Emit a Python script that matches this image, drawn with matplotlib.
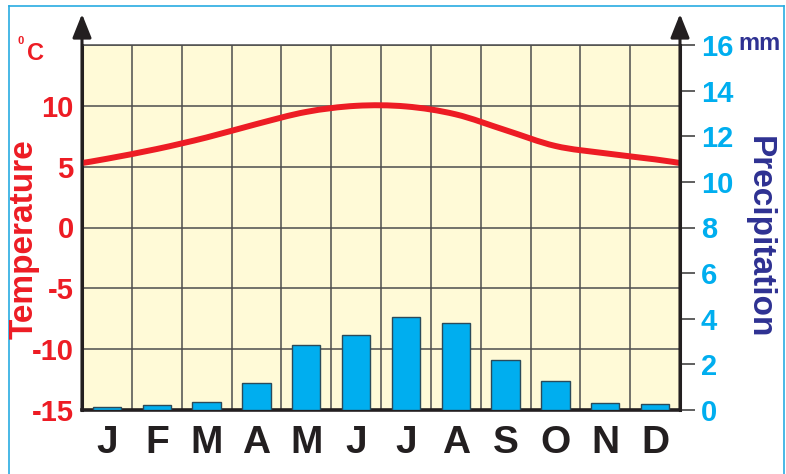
import matplotlib
matplotlib.use("Agg")
import matplotlib.pyplot as plt
import numpy as np
from matplotlib.path import Path
from matplotlib.patches import PathPatch

# data setting
months = ["J", "F", "M", "A", "M", "J", "J", "A", "S", "O", "N", "D"]
temperature = [5.65, 6.45, 7.4, 8.5, 9.5, 10.0, 9.95, 9.3, 8.0, 6.7, 6.1, 5.6]
temp_year_edge = 5.3      # value of the curve at the start / end of the year
precipitation = [0.14, 0.22, 0.34, 1.2, 2.84, 3.29, 4.08, 3.83, 2.18, 1.26, 0.32, 0.25]
temp_ticks = [-15, -10, -5, 0, 5, 10, 15]
temp_labels = ["-15", "-10", "-5", "0", "5", "10", ""]
prec_ticks = [0, 2, 4, 6, 8, 10, 12, 14, 16]

# colours
red = "#ED1C24"
cyan = "#00AEEF"
navy = "#2E3192"
black = "#231F20"
grid_col = "#4D4D4D"

font = ["Liberation Sans", "DejaVu Sans"]

W, H = 786, 474
fig = plt.figure(figsize=(W / 100, H / 100), dpi=100)
ax = fig.add_axes([82 / W, 1 - 410 / H, 598 / W, 365 / H])
ax.set_facecolor("#FFFAD7")

n = len(months)
x = np.arange(1, n + 1)
ax.set_xlim(0.5, n + 0.5)
ax.set_ylim(-15, 15)

# grid
ax.set_xticks(np.arange(0.5, n + 1), minor=True)
ax.set_xticks(x)
ax.set_xticklabels(months, fontsize=28, fontweight="bold", color=black, family=font)
ax.set_yticks(temp_ticks)
ax.set_yticklabels(temp_labels, fontsize=21, fontweight="bold", color=red, family=font)
ax.tick_params(axis="x", which="both", length=0, pad=11)
ax.tick_params(axis="y", length=0, pad=6)
ax.grid(which="minor", axis="x", color=grid_col, lw=1.1)
ax.grid(which="major", axis="y", color=grid_col, lw=1.1)
ax.set_axisbelow(True)

ax.spines["right"].set_visible(False)
ax.spines["top"].set_color(grid_col)
ax.spines["top"].set_linewidth(1.1)
ax.spines["left"].set_color(black)
ax.spines["left"].set_linewidth(2.2)
ax.spines["bottom"].set_color(black)
ax.spines["bottom"].set_linewidth(2.6)
ax.spines["bottom"].set_zorder(5)

# temperature curve, smooth through the monthly values
px = np.concatenate([[0.5], x, [n + 0.5]])
py = np.concatenate([[temp_year_edge], temperature, [temp_year_edge]])
pts = np.column_stack([px, py])
verts = [pts[0]]
codes = [Path.MOVETO]
for i in range(len(pts) - 1):
    p0 = pts[max(i - 1, 0)]
    p1 = pts[i]
    p2 = pts[i + 1]
    p3 = pts[min(i + 2, len(pts) - 1)]
    verts += [p1 + (p2 - p0) / 6, p2 - (p3 - p1) / 6, p2]
    codes += [Path.CURVE4] * 3
ax.add_patch(PathPatch(Path(verts, codes), fill=False, edgecolor=red, lw=4.3,
                       capstyle="butt", zorder=4))

# precipitation bars
ax2 = ax.twinx()
ax2.set_ylim(0, 16)
ax2.bar(x, precipitation, width=0.57, color=cyan, edgecolor="#2b4a5a", lw=1.0, zorder=3)
ax2.set_yticks(prec_ticks)
ax2.set_yticklabels([str(t) for t in prec_ticks], fontsize=21, fontweight="bold",
                    color=cyan, family=font)
ax2.tick_params(axis="y", length=11, width=1.2, color="#444444", pad=4)
for s in ["top", "left", "bottom"]:
    ax2.spines[s].set_visible(False)
ax2.spines["right"].set_color(black)
ax2.spines["right"].set_linewidth(2.2)

# axis arrows
for xa in [0, 1]:
    ax2.annotate("", xy=(xa, 1.085), xytext=(xa, 0), xycoords="axes fraction",
                 arrowprops=dict(arrowstyle="-|>,head_length=0.8,head_width=0.32",
                                 mutation_scale=18, lw=2.2, color=black,
                                 shrinkA=0, shrinkB=0))

# labels
fig.text(20.5 / W, 1 - 41 / H, "0", fontsize=8, fontweight="bold", color=red,
         family=font, ha="center", va="center")
fig.text(35 / W, 1 - 54 / H, "C", fontsize=17, fontweight="bold", color=red,
         family=font, ha="center", va="center")
fig.text(24.5 / W, 1 - 239 / H, "Temperature", fontsize=24, fontweight="bold",
         color=red, family=font, rotation=90, ha="center", va="center")
fig.text(759.5 / W, 1 - 237 / H, "Precipitation", fontsize=24, fontweight="bold",
         color=navy, family=font, rotation=270, ha="center", va="center")
fig.text(738 / W, 1 - 50 / H, "mm", fontsize=17, fontweight="bold", color=navy,
         family=font, ha="left", va="baseline")

# frame around the picture
fc = "#29ABE2"
fig.add_artist(plt.Line2D([9 / W, 9 / W], [0, 1 - 6 / H], color=fc, lw=1.2))
fig.add_artist(plt.Line2D([9 / W, 784 / W], [1 - 6 / H, 1 - 6 / H], color=fc, lw=1.2))
fig.add_artist(plt.Line2D([784 / W, 784 / W], [0, 1 - 6 / H], color=fc, lw=1.2))

plt.savefig("out.png", dpi=100)
